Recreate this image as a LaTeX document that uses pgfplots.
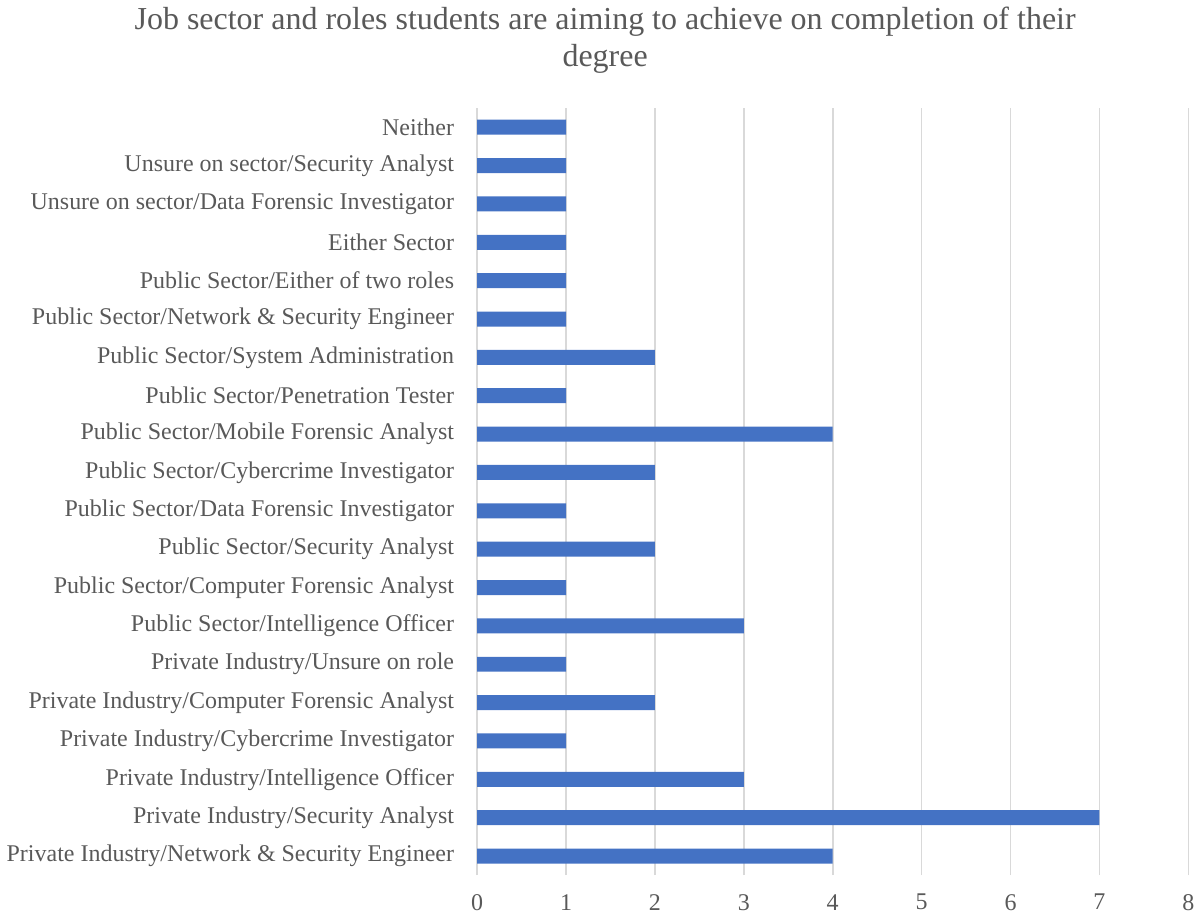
\documentclass[border=0pt]{standalone}
\usepackage{pgfplots}
\pgfplotsset{compat=1.18}
\usepackage{fontspec}
\setmainfont{Liberation Serif}
\definecolor{barblue}{HTML}{4472C4}
\definecolor{gridgray}{HTML}{D9D9D9}
\definecolor{txtgray}{HTML}{595959}
\begin{document}
\begin{tikzpicture}
\begin{axis}[
  scale only axis,
  width=356pt, height=384pt,
  xbar, bar width=7.5pt,
  xmin=0, xmax=8, xtick={0,...,8},
  ymin=-0.5, ymax=19.5, ytick={0,...,19},
  yticklabels={
    Private Industry/Network \& Security Engineer,
    Private Industry/Security Analyst,
    Private Industry/Intelligence Officer,
    Private Industry/Cybercrime Investigator,
    Private Industry/Computer Forensic Analyst,
    Private Industry/Unsure on role,
    Public Sector/Intelligence Officer,
    Public Sector/Computer Forensic Analyst,
    Public Sector/Security Analyst,
    Public Sector/Data Forensic Investigator,
    Public Sector/Cybercrime Investigator,
    Public Sector/Mobile Forensic Analyst,
    Public Sector/Penetration Tester,
    Public Sector/System Administration,
    Public Sector/Network \& Security Engineer,
    Public Sector/Either of two roles,
    Either Sector,
    Unsure on sector/Data Forensic Investigator,
    Unsure on sector/Security Analyst,
    Neither},
  xmajorgrids, grid style={gridgray, line width=0.8pt},
  axis line style={draw=none},
  major tick length=0pt,
  tick style={draw=none},
  ticklabel style={font=\fontsize{12}{14}\selectfont, text=txtgray},
  xticklabel style={yshift=-6pt},
  yticklabel style={xshift=-8pt},
  /pgf/number format/assume math mode=true,
  title={Job sector and roles students are aiming to achieve on completion of their\\degree},
  title style={font=\fontsize{16}{18.5}\selectfont, text=txtgray, align=center, at={(axis description cs:0.18,1)}, anchor=south, yshift=8pt},
]
\addplot[fill=barblue, draw=none] coordinates {
(4,0) (7,1) (3,2) (1,3) (2,4) (1,5) (3,6) (1,7) (2,8) (1,9)
(2,10) (4,11) (1,12) (2,13) (1,14) (1,15) (1,16) (1,17) (1,18) (1,19)};
\end{axis}
\end{tikzpicture}
\end{document}
